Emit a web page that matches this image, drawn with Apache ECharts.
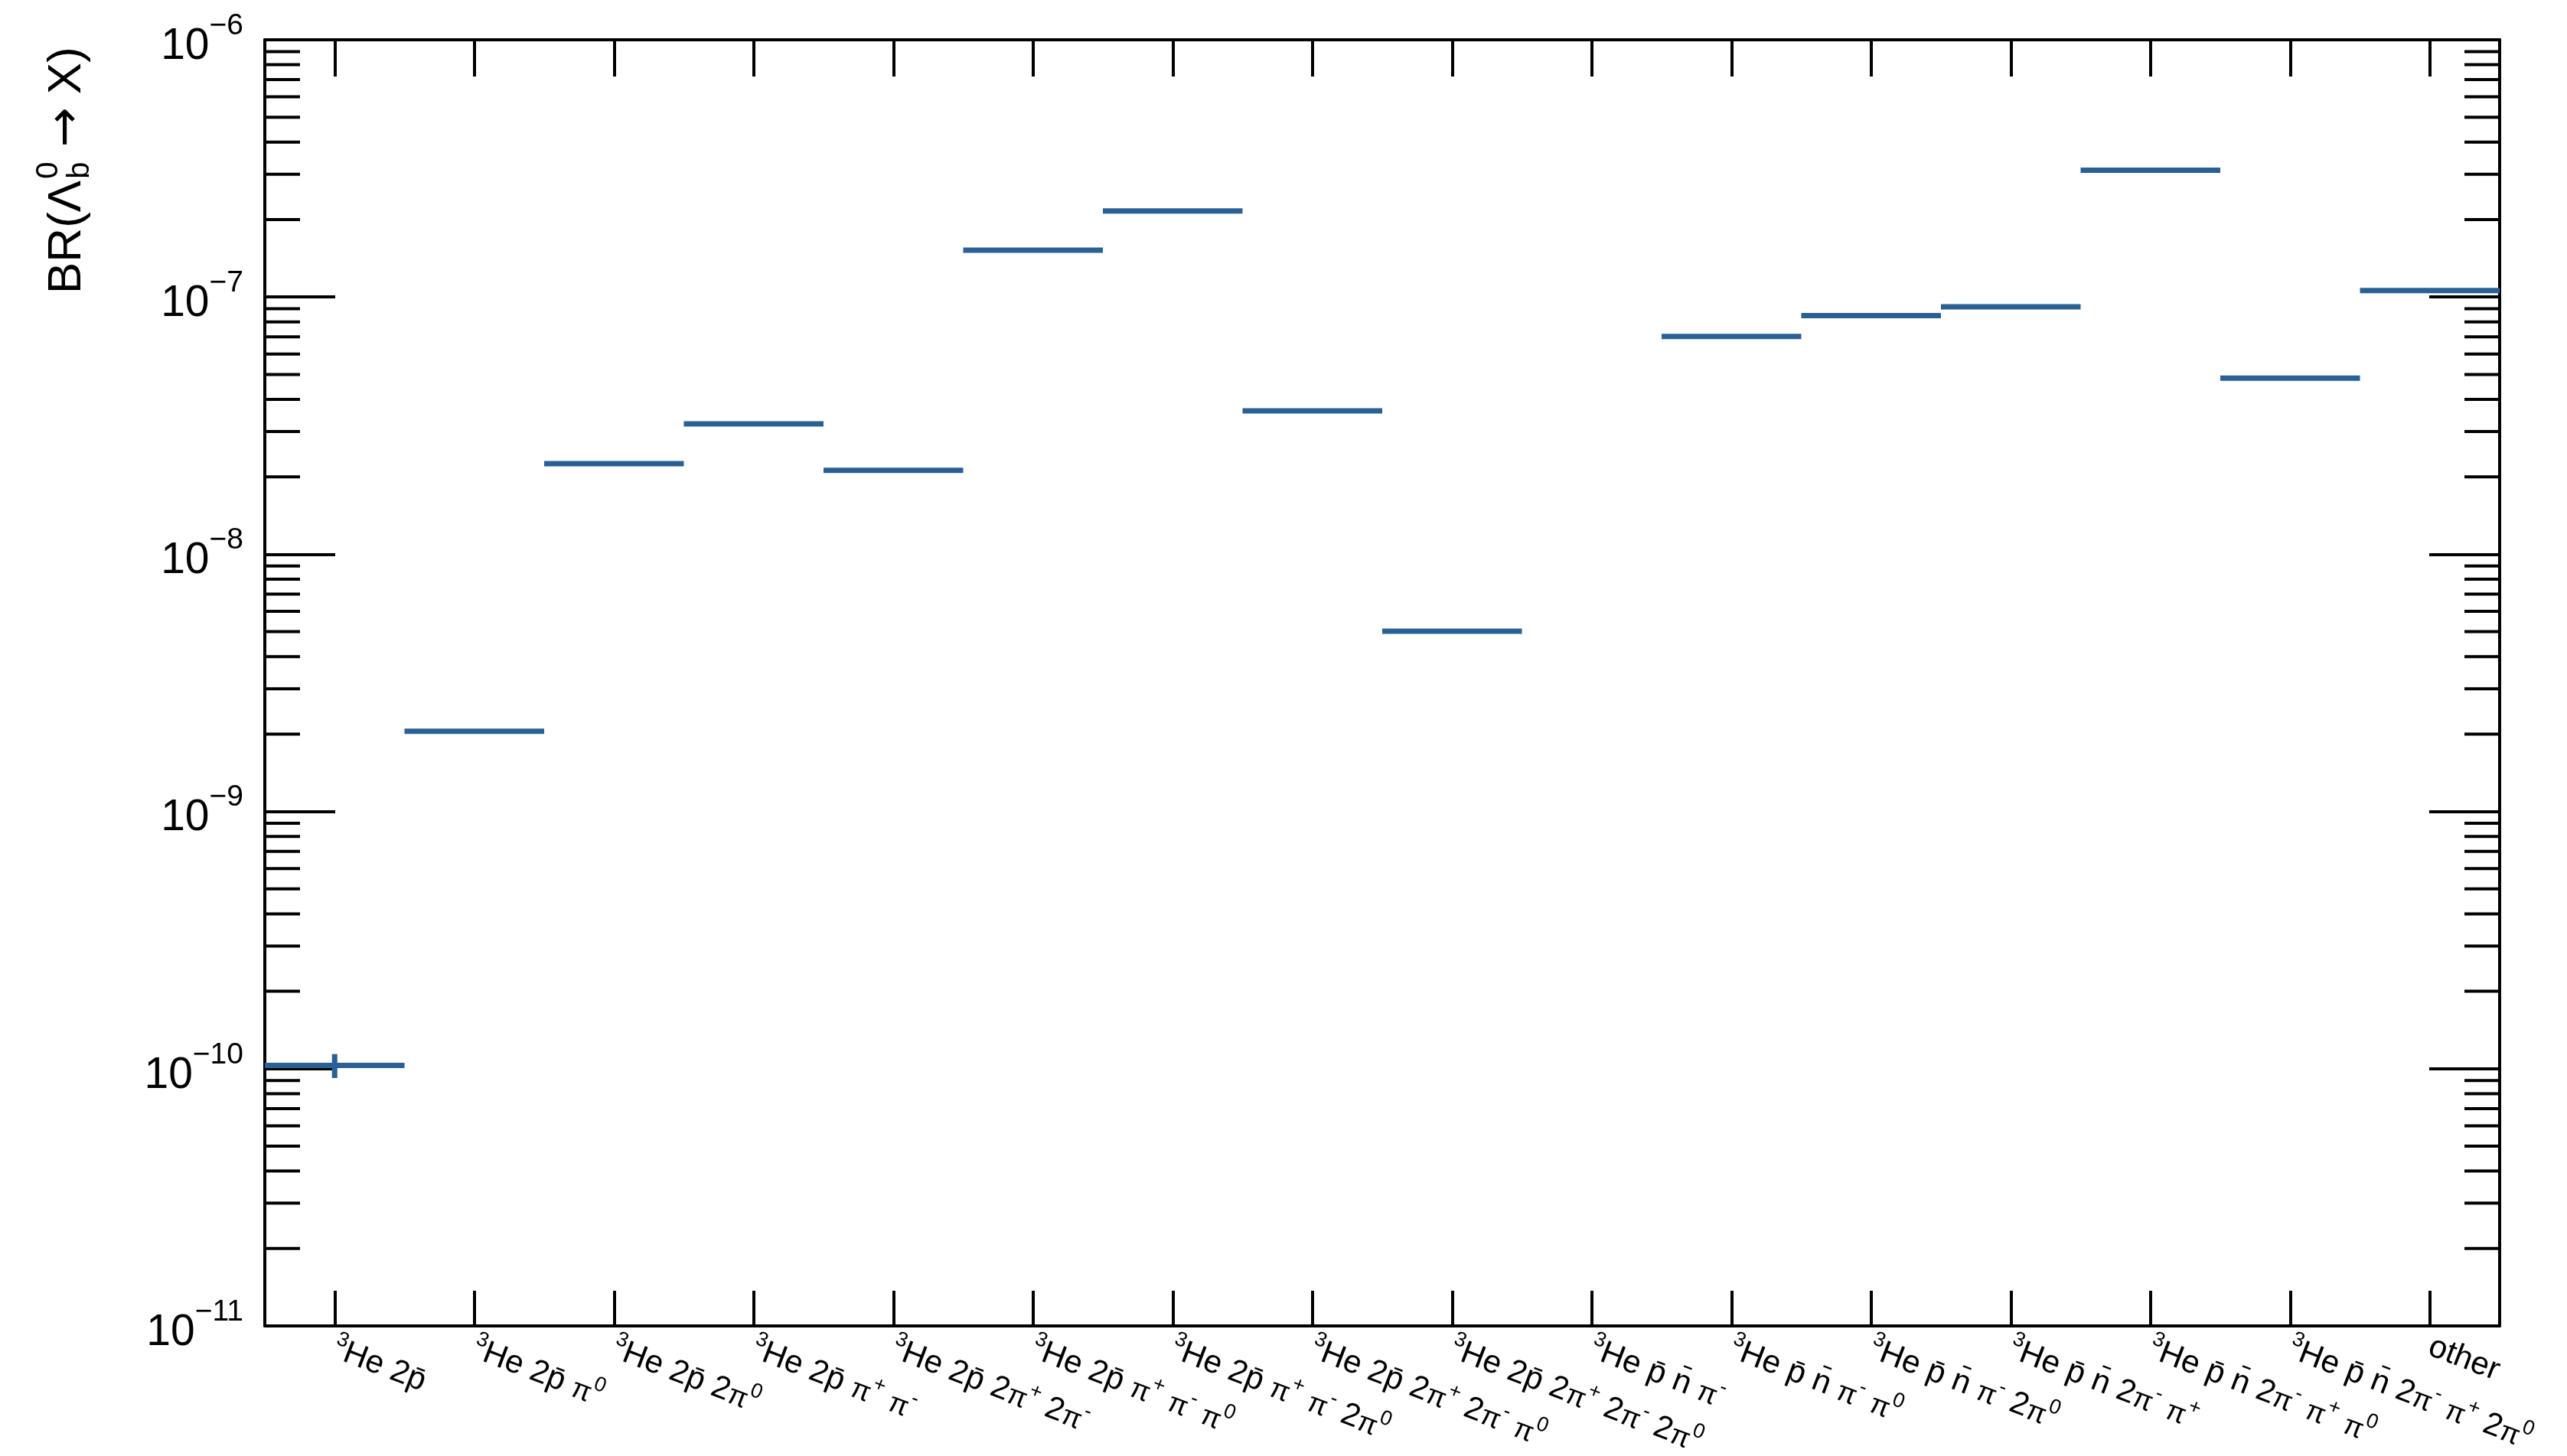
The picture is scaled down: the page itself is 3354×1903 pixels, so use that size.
<!DOCTYPE html>
<html><head><meta charset="utf-8">
<script src="https://cdn.jsdelivr.net/npm/echarts@6/dist/echarts.min.js"></script>
<style>html,body{margin:0;padding:0;background:#fff}#c{width:3354px;height:1903px}</style>
</head><body><div id="c"></div>
<script>
// ---- data ----
const categories = [
  '^{3}He 2p\u0304',
  '^{3}He 2p\u0304 π^{0}',
  '^{3}He 2p\u0304 2π^{0}',
  '^{3}He 2p\u0304 π^{+} π^{-}',
  '^{3}He 2p\u0304 2π^{+} 2π^{-}',
  '^{3}He 2p\u0304 π^{+} π^{-} π^{0}',
  '^{3}He 2p\u0304 π^{+} π^{-} 2π^{0}',
  '^{3}He 2p\u0304 2π^{+} 2π^{-} π^{0}',
  '^{3}He 2p\u0304 2π^{+} 2π^{-} 2π^{0}',
  '^{3}He p\u0304 n\u0304 π^{-}',
  '^{3}He p\u0304 n\u0304 π^{-} π^{0}',
  '^{3}He p\u0304 n\u0304 π^{-} 2π^{0}',
  '^{3}He p\u0304 n\u0304 2π^{-} π^{+}',
  '^{3}He p\u0304 n\u0304 2π^{-} π^{+} π^{0}',
  '^{3}He p\u0304 n\u0304 2π^{-} π^{+} 2π^{0}',
  'other'
];
const brValues = [1.03e-10, 2.05e-9, 2.25e-8, 3.21e-8, 2.12e-8, 1.52e-7, 2.16e-7, 3.61e-8,
                  5.02e-9, null, 7.02e-8, 8.46e-8, 9.16e-8, 3.11e-7, 4.84e-8, 1.06e-7];
const brErrors = [1.1e-11, 0, 0, 0, 0, 0, 0, 0, 0, 0, 0, 0, 0, 0, 0, 0];
const yMin = 1e-11, yMax = 1e-6;
const minorMultipliers = [2, 3, 4, 5, 6, 7, 8, 9];
const decadeExponents = [-11, -10, -9, -8, -7];
const yTitleMain = 'BR(Λ', yTitleSup = '0', yTitleSub = 'b', yTitleArrow = '→', yTitleEnd = 'X)';

// ---- chart ----
const FONT = '"Liberation Sans", Arial, Helvetica, sans-serif';
const COLOR = '#2a6195';
const chart = echarts.init(document.getElementById('c'), null, {renderer: 'canvas'});

function richLabel(s) {
  const parts = []; const re = /\^\{([^}]*)\}|π/g; let last = 0, m;
  while ((m = re.exec(s))) {
    if (m.index > last) parts.push('{n|' + s.slice(last, m.index) + '}');
    parts.push(m[0] === 'π' ? '{p|π}' : '{s|' + m[1] + '}');
    last = re.lastIndex;
  }
  if (last < s.length) parts.push('{n|' + s.slice(last) + '}');
  return parts.join('');
}

const minorData = [];
decadeExponents.forEach(e => minorMultipliers.forEach(k => minorData.push([0, k * Math.pow(10, e)])));

const mctx = document.createElement('canvas').getContext('2d');
function tw(t, size, fam) { mctx.font = size + 'px ' + (fam || FONT); return mctx.measureText(t).width; }
const TS = 62, TSS = 40;
const AFONT = '"DejaVu Sans", sans-serif';
const w1 = tw(yTitleMain, TS);
const wSS = Math.max(tw(yTitleSup, TSS), tw(yTitleSub, TSS));
const wSp = tw(' ', TS);
const wArr = tw(yTitleArrow, TS, AFONT);

const option = {
  backgroundColor: '#fff',
  animation: false,
  grid: {left: 346, right: 88, top: 52, bottom: 170, outerBoundsMode: 'none', containLabel: false},
  xAxis: [{
    type: 'category', data: categories, position: 'bottom', boundaryGap: true,
    axisLine: {show: true, lineStyle: {color: '#000', width: 4}},
    axisTick: {show: true, inside: true, length: 46, alignWithLabel: true, interval: 0, lineStyle: {color: '#000', width: 4}},
    axisLabel: {
      interval: 0, rotate: -21, margin: 26, color: '#000', fontFamily: FONT,
      formatter: v => richLabel(v),
      rich: {
        n: {fontSize: 42, fontFamily: FONT, color: '#000', verticalAlign: 'bottom'},
        p: {fontSize: 37, fontFamily: FONT, color: '#000', verticalAlign: 'bottom'},
        s: {fontSize: 27, fontFamily: FONT, color: '#000', verticalAlign: 'bottom', padding: [0, 0, 21, 0]}
      }
    },
    splitLine: {show: false}
  }, {
    type: 'category', data: categories, position: 'top', boundaryGap: true,
    axisLine: {show: true, lineStyle: {color: '#000', width: 4}},
    axisTick: {show: true, inside: true, length: 48, alignWithLabel: true, interval: 0, lineStyle: {color: '#000', width: 4}},
    axisLabel: {show: false}, splitLine: {show: false}
  }],
  yAxis: [{
    type: 'log', logBase: 10, min: yMin, max: yMax, position: 'left', splitNumber: 5,
    axisLine: {show: true, lineStyle: {color: '#000', width: 4}},
    axisTick: {show: true, inside: true, length: 92, lineStyle: {color: '#000', width: 4}},
    axisLabel: {
      margin: 28, color: '#000',
      formatter: v => '{b|10}{e|\u2212' + (-Math.round(Math.log10(v))) + '}',
      rich: {
        b: {fontSize: 57, fontFamily: FONT, color: '#000', verticalAlign: 'bottom'},
        e: {fontSize: 39, fontFamily: FONT, color: '#000', verticalAlign: 'bottom', padding: [0, 0, 36, 0]}
      }
    },
    splitLine: {show: false}
  }, {
    type: 'log', logBase: 10, min: yMin, max: yMax, position: 'right', splitNumber: 5,
    axisLine: {show: true, lineStyle: {color: '#000', width: 4}},
    axisTick: {show: true, inside: true, length: 92, lineStyle: {color: '#000', width: 4}},
    axisLabel: {show: false}, splitLine: {show: false}
  }],
  graphic: [{
    type: 'group', x: 88, y: 384, rotation: Math.PI / 2,
    children: [
      {type: 'text', x: 0, y: 0, style: {text: yTitleMain, fontSize: TS, fontFamily: FONT, fill: '#000', align: 'left', verticalAlign: 'middle'}},
      {type: 'text', x: w1 + 2, y: -24, style: {text: yTitleSup, fontSize: TSS, fontFamily: FONT, fill: '#000', align: 'left', verticalAlign: 'middle'}},
      {type: 'text', x: w1 + 2, y: 17, style: {text: yTitleSub, fontSize: TSS, fontFamily: FONT, fill: '#000', align: 'left', verticalAlign: 'middle'}},
      {type: 'text', x: w1 + wSS + 4 + wSp, y: 0, style: {text: yTitleArrow, fontSize: TS, fontFamily: AFONT, fill: '#000', align: 'left', verticalAlign: 'middle'}},
      {type: 'text', x: w1 + wSS + 4 + 2 * wSp + wArr, y: 0, style: {text: yTitleEnd, fontSize: TS, fontFamily: FONT, fill: '#000', align: 'left', verticalAlign: 'middle'}}
    ]
  }],
  series: [{
    type: 'custom', name: 'minorTicks', xAxisIndex: 0, yAxisIndex: 0, silent: true, z: 1,
    data: minorData, encode: {x: 0, y: 1},
    renderItem: function (params, api) {
      const y = api.coord([0, api.value(1)])[1];
      const cs = params.coordSys;
      return {type: 'group', children: [
        {type: 'line', shape: {x1: cs.x, y1: y, x2: cs.x + 46, y2: y}, style: {stroke: '#000', lineWidth: 4}},
        {type: 'line', shape: {x1: cs.x + cs.width - 46, y1: y, x2: cs.x + cs.width, y2: y}, style: {stroke: '#000', lineWidth: 4}}
      ]};
    }
  }, {
    type: 'custom', name: 'BR', xAxisIndex: 0, yAxisIndex: 0, z: 3, clip: false,
    data: brValues.map((v, i) => [i, v, brErrors[i]]), encode: {x: 0, y: 1},
    renderItem: function (params, api) {
      const v = api.value(1);
      if (v == null || isNaN(v) || v <= 0) return null;
      const i = api.value(0);
      const c = api.coord([i, v]);
      const c2 = api.coord([i + 1, v]);
      const w = c2[0] - c[0];
      const ch = [{type: 'line', shape: {x1: c[0] - w / 2, y1: c[1], x2: c[0] + w / 2, y2: c[1]}, style: {stroke: COLOR, lineWidth: 7}}];
      const e = api.value(2);
      if (e > 0) {
        const hi = api.coord([i, v + e]), lo = api.coord([i, v - e]);
        ch.push({type: 'line', shape: {x1: c[0], y1: hi[1], x2: c[0], y2: lo[1]}, style: {stroke: COLOR, lineWidth: 7}});
      }
      return {type: 'group', children: ch};
    }
  }]
};
chart.setOption(option);
</script></body></html>
